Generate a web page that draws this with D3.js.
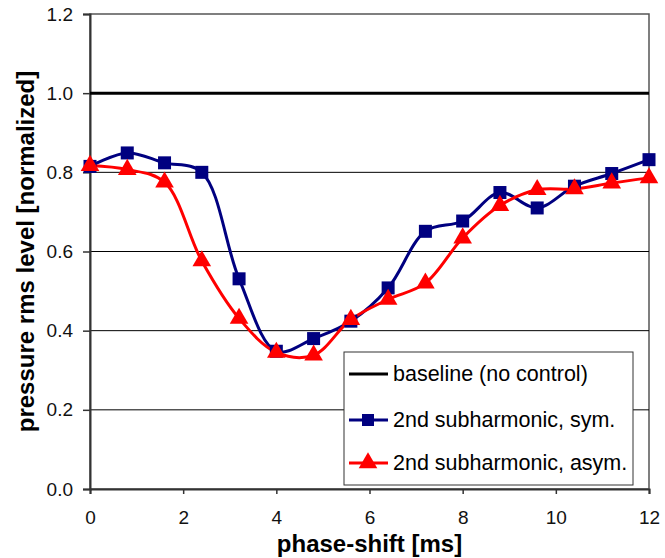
<!DOCTYPE html>
<html>
<head>
<meta charset="utf-8">
<script src="https://cdn.jsdelivr.net/npm/d3@7"></script>
<style>
  body { margin: 0; background: #fff; }
  svg { display: block; font-family: Arial, "Liberation Sans", sans-serif; }
</style>
</head>
<body>
<svg width="665" height="558"></svg>
<script>
// phase-shift [ms]
const phase = [0, 0.8, 1.6, 2.4, 3.2, 4.0, 4.8, 5.6, 6.4, 7.2, 8.0, 8.8, 9.6, 10.4, 11.2, 12.0]
const sym = [0.815, 0.849, 0.824, 0.800, 0.531, 0.348, 0.380, 0.424, 0.508, 0.651, 0.677, 0.749, 0.710, 0.765, 0.797, 0.832]
const asym = [0.817, 0.807, 0.775, 0.576, 0.431, 0.345, 0.338, 0.428, 0.479, 0.520, 0.634, 0.716, 0.756, 0.758, 0.773, 0.786]
const baseline = [1.0, 1.0]
const baselineX = [0, 12]
const xTicks = [0, 2, 4, 6, 8, 10, 12]
const yTicks = [0, 0.2, 0.4, 0.6, 0.8, 1.0, 1.2]
const gridY = [0.2, 0.4, 0.6, 0.8]
const legendLabels = ['baseline (no control)', '2nd subharmonic, sym.', '2nd subharmonic, asym.']

const svg = d3.select('svg')
const mLeft = 90, mRight = 649, mTop = 14, mBottom = 489

const x = d3.scaleLinear().domain([0, 12]).range([mLeft, mRight])
const y = d3.scaleLinear().domain([0, 1.2]).range([mBottom, mTop])

// plot frame
svg.append('rect')
	.attr('x', mLeft).attr('y', mTop)
	.attr('width', mRight - mLeft).attr('height', mBottom - mTop)
	.attr('fill', 'none').attr('stroke', '#555').attr('stroke-width', 1.5)

// gridlines
svg.append('g').selectAll('line').data(gridY).join('line')
	.attr('x1', mLeft).attr('x2', mRight)
	.attr('y1', d => y(d)).attr('y2', d => y(d))
	.attr('stroke', '#000').attr('stroke-width', 1)

// axes
const yAxis = svg.append('g')
	.attr('transform', `translate(${mLeft},0)`)
	.call(d3.axisLeft(y).tickValues(yTicks).tickFormat(d3.format('.1f')).tickSize(7).tickPadding(10))
const xAxis = svg.append('g')
	.attr('transform', `translate(0,${mBottom})`)
	.call(d3.axisBottom(x).tickValues(xTicks).tickFormat(d3.format('d')).tickSize(5).tickPadding(17))
;[yAxis, xAxis].forEach(a => {
	a.select('.domain').attr('stroke', '#333').attr('stroke-width', 2)
	a.selectAll('.tick line').attr('stroke', '#333').attr('stroke-width', 1.5)
	a.selectAll('.tick text').attr('font-size', 19).attr('fill', '#111')
		.attr('font-family', 'Arial, "Liberation Sans", sans-serif')
})

// axis titles
svg.append('text')
	.attr('x', (mLeft + mRight) / 2).attr('y', 552)
	.attr('text-anchor', 'middle')
	.attr('font-size', 24).attr('font-weight', 'bold')
	.text('phase-shift [ms]')
svg.append('text')
	.attr('transform', `translate(34,${(mTop + mBottom) / 2}) rotate(-90)`)
	.attr('text-anchor', 'middle')
	.attr('font-size', 24).attr('font-weight', 'bold')
	.text('pressure rms level [normalized]')

// baseline
const line = d3.line().x(d => x(d[0])).y(d => y(d[1]))
svg.append('path')
	.datum(d3.zip(baselineX, baseline))
	.attr('d', line)
	.attr('fill', 'none').attr('stroke', '#000').attr('stroke-width', 3)

const smooth = d3.line().x(d => x(d[0])).y(d => y(d[1])).curve(d3.curveCatmullRom.alpha(0.5))
const symData = d3.zip(phase, sym)
const asymData = d3.zip(phase, asym)

const tri = d3.symbol().type(d3.symbolTriangle).size(150)

svg.append('path').datum(symData).attr('d', smooth)
	.attr('fill', 'none').attr('stroke', '#000080').attr('stroke-width', 3)
svg.append('path').datum(asymData).attr('d', smooth)
	.attr('fill', 'none').attr('stroke', '#ff0000').attr('stroke-width', 3)

svg.append('g').selectAll('rect').data(symData).join('rect')
	.attr('x', d => x(d[0]) - 6.5).attr('y', d => y(d[1]) - 6.5)
	.attr('width', 13).attr('height', 13)
	.attr('fill', '#000080')
svg.append('g').selectAll('path').data(asymData).join('path')
	.attr('transform', d => `translate(${x(d[0])},${y(d[1])})`)
	.attr('d', tri)
	.attr('fill', '#ff0000')

// legend
const lg = svg.append('g')
lg.append('rect')
	.attr('x', 344).attr('y', 352).attr('width', 289).attr('height', 133)
	.attr('fill', '#fff').attr('stroke', '#333').attr('stroke-width', 1)
const rows = [374, 420, 463]
const colors = ['#000', '#000080', '#ff0000']
legendLabels.forEach((label, i) => {
	const yy = rows[i]
	lg.append('line')
		.attr('x1', 349).attr('x2', 388).attr('y1', yy).attr('y2', yy)
		.attr('stroke', colors[i]).attr('stroke-width', 3)
	if (i === 1) {
		lg.append('rect').attr('x', 362).attr('y', yy - 6).attr('width', 12).attr('height', 12)
			.attr('fill', colors[i])
	}
	if (i === 2) {
		lg.append('path').attr('transform', `translate(368,${yy})`).attr('d', tri).attr('fill', colors[i])
	}
	lg.append('text')
		.attr('x', 393).attr('y', yy + 7)
		.attr('font-size', 21.5)
		.attr('fill', '#000')
		.text(label)
})
</script>
</body>
</html>
